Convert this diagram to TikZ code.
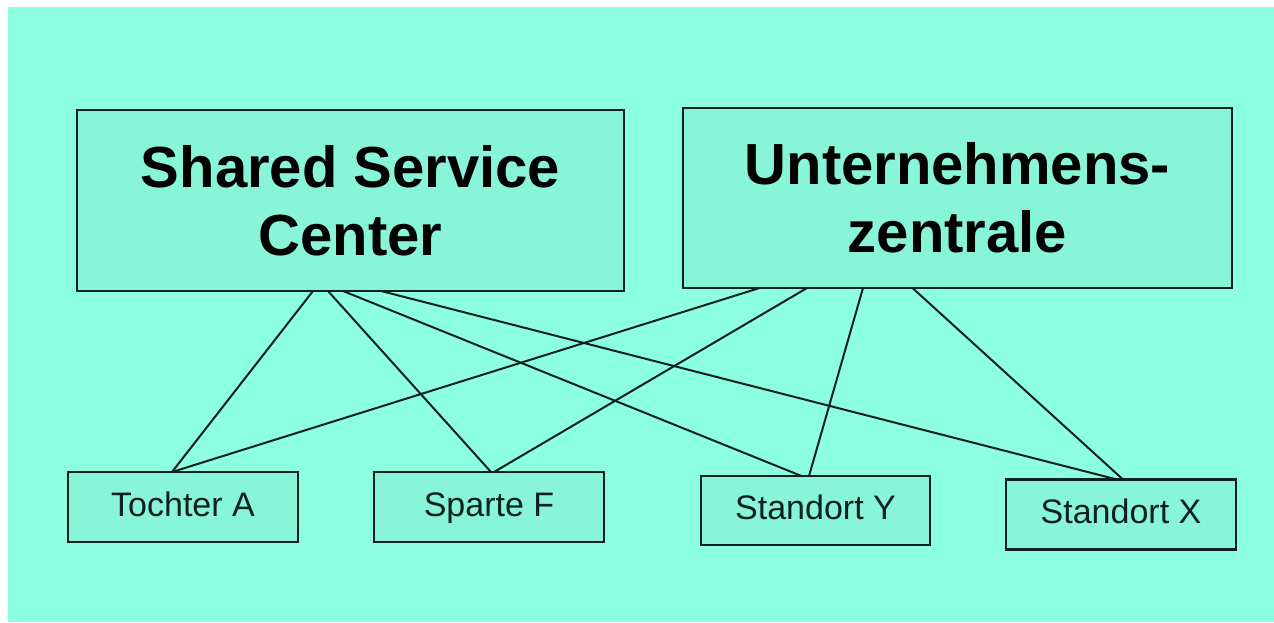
\documentclass[tikz,border=0pt]{standalone}
\usepackage{fontspec}
\setmainfont{Liberation Sans}
\definecolor{bgmint}{HTML}{8CFFE0}
\definecolor{boxmint}{HTML}{88F5D8}
\definecolor{inkline}{HTML}{0E211C}
\begin{document}
\begin{tikzpicture}[x=1pt,y=-1pt,
  unit/.style={draw=inkline, line width=2.4pt, fill=boxmint, rectangle,
    inner sep=0pt, outer sep=0pt, align=center},
  bigunit/.style={unit, font=\fontsize{58}{68}\selectfont\bfseries},
  smallunit/.style={unit, font=\fontsize{34}{40}\selectfont, text=inkline,
    text height=25pt, text depth=7pt},
  link/.style={draw=inkline, line width=2pt}]
  % canvas
  \useasboundingbox (0,0) rectangle (1274,622);
  \fill[white] (0,0) rectangle (1274,622);
  \fill[bgmint] (8,7) rectangle (1274,622);

  % upper level
  \node[bigunit, minimum width=547pt, minimum height=181pt] (ssc) at (350.5,200.5)
    {Shared Service\\Center};
  \node[bigunit, minimum width=549pt, minimum height=180pt] (uz) at (957.5,198)
    {Unternehmens-\\zentrale};

  % lower level
  \node[smallunit, minimum width=230pt, minimum height=70pt] (ta) at (183,507) {Tochter A};
  \node[smallunit, minimum width=230pt, minimum height=70pt] (sf) at (489,507) {Sparte F};
  \node[smallunit, minimum width=229pt, minimum height=69pt] (sy) at (815.5,510.5) {Standort Y};
  \node[smallunit, minimum width=230pt, minimum height=70pt] (sx) at (1121,514.5) {Standort X};

  % links from the service center
  \draw[link] ([xshift=-37.5pt]ssc.south) -- ([xshift=-11pt]ta.north);
  \draw[link] ([xshift=-22.5pt]ssc.south) -- ([xshift=2pt]sf.north);
  \draw[link] ([xshift=-7.5pt]ssc.south) -- ([xshift=-14pt]sy.north);
  \draw[link] ([xshift=30.5pt]ssc.south) -- ([xshift=-4pt]sx.north);

  % links from the head office
  \draw[link] ([xshift=-198pt]uz.south) -- ([xshift=-11pt]ta.north);
  \draw[link] ([xshift=-150.5pt]uz.south) -- ([xshift=5pt]sf.north);
  \draw[link] ([xshift=-94.5pt]uz.south) -- ([xshift=-6.5pt]sy.north);
  \draw[link] ([xshift=-45pt]uz.south) -- ([xshift=2pt]sx.north);
\end{tikzpicture}
\end{document}
